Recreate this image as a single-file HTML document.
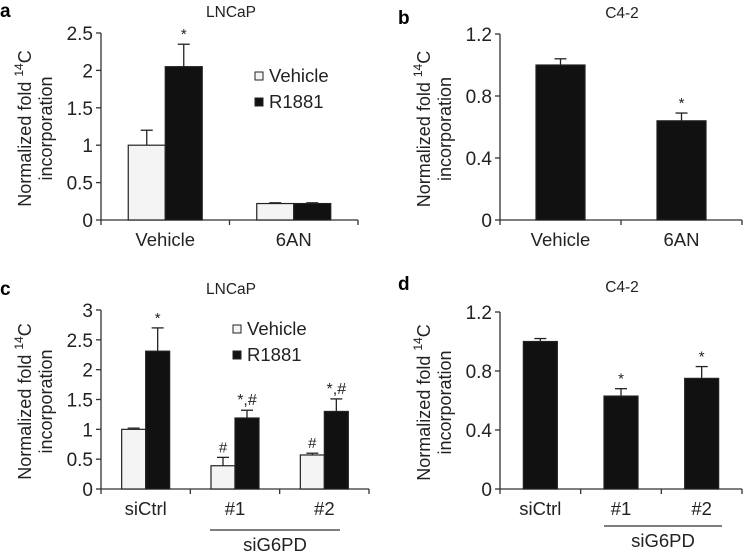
<!DOCTYPE html>
<html><head><meta charset="utf-8"><style>
html,body{margin:0;padding:0;background:#fff;}
svg{display:block;font-family:"Liberation Sans",Arial,sans-serif;}
</style></head><body>
<svg id="fig" width="743" height="555" viewBox="0 0 743 555"></svg>
<script>
// Panel a data
const aCategories = ["Vehicle", "6AN"];
const aVehicle = [1.0, 0.22];
const aVehicleErr = [0.2, 0.01];
const aR1881 = [2.05, 0.22];
const aR1881Err = [0.3, 0.01];
const aTicks = [0, 0.5, 1, 1.5, 2, 2.5];
const aTickLabels = ["0", "0.5", "1", "1.5", "2", "2.5"];
// Panel b data
const bCategories = ["Vehicle", "6AN"];
const bValues = [1.0, 0.64];
const bErr = [0.04, 0.05];
const bTicks = [0, 0.4, 0.8, 1.2];
const bTickLabels = ["0", "0.4", "0.8", "1.2"];
// Panel c data
const cCategories = ["siCtrl", "#1", "#2"];
const cVehicle = [1.0, 0.39, 0.57];
const cVehicleErr = [0.02, 0.14, 0.03];
const cR1881 = [2.31, 1.19, 1.3];
const cR1881Err = [0.39, 0.13, 0.21];
const cTicks = [0, 0.5, 1, 1.5, 2, 2.5, 3];
const cTickLabels = ["0", "0.5", "1", "1.5", "2", "2.5", "3"];
// Panel d data
const dCategories = ["siCtrl", "#1", "#2"];
const dValues = [1.0, 0.63, 0.75];
const dErr = [0.02, 0.05, 0.08];
const dTicks = [0, 0.4, 0.8, 1.2];
const dTickLabels = ["0", "0.4", "0.8", "1.2"];

const NS = "http://www.w3.org/2000/svg";
const svg = document.getElementById("fig");
function mk(tag, attrs, parent, text) {
  const e = document.createElementNS(NS, tag);
  for (const k in attrs) e.setAttribute(k, attrs[k]);
  if (text !== undefined) e.textContent = text;
  (parent || svg).appendChild(e);
  return e;
}

function panel(cfg) {
  const g = mk("g", {});
  
  
  const y = v => cfg.y0 - (v / cfg.ymax) * (cfg.y0 - cfg.ytop);
  const L = mk("text", {x: cfg.letterX, y: cfg.letterY, "font-size": 19, "font-weight": "bold"}, g, cfg.letter);
  
  
  const T = mk("text", {x: cfg.titleX, y: cfg.titleY, "font-size": 15.5, "text-anchor": "middle", fill: "#222"}, g, cfg.title);
  
  
  const yt = mk("text", {transform: `translate(${cfg.ax - 60},${(cfg.y0 + cfg.ytop) / 2 + 2}) rotate(-90)`, "font-size": 18, "text-anchor": "middle", fill: "#222"}, g);
  
  
  mk("tspan", {x: 0, dy: -10}, yt, "Normalized fold ");
  mk("tspan", {dy: -8, "font-size": 12}, yt, "14");
  mk("tspan", {dy: 8}, yt, "C");
  mk("tspan", {x: 0, dy: 21}, yt, "incorporation");
  const ya = mk("line", {x1: cfg.ax, x2: cfg.ax, y1: cfg.ytop, y2: cfg.y0, stroke: "#333", "stroke-width": 1.3}, g);
  
  
  cfg.ticks.forEach((t, i) => {
    mk("line", {x1: cfg.ax - 5, x2: cfg.ax, y1: y(t), y2: y(t), stroke: "#333", "stroke-width": 1.3}, g);
    const tl = mk("text", {x: cfg.ax - 8, y: y(t) + 7, "font-size": 19, "text-anchor": "end", fill: "#222"}, g, cfg.tickLabels[i]);
    
    
  });
  const xa = mk("line", {x1: cfg.ax, x2: cfg.axEnd, y1: cfg.y0, y2: cfg.y0, stroke: "#333", "stroke-width": 1.3}, g);
  
  
  const n = cfg.categories.length;
  const gw = (cfg.axEnd - cfg.ax) / n;
  for (let i = 0; i <= n; i++) {
    mk("line", {x1: cfg.ax + gw * i, x2: cfg.ax + gw * i, y1: cfg.y0, y2: cfg.y0 + 5, stroke: "#333", "stroke-width": 1.3}, g);
  }
  cfg.categories.forEach((c, i) => {
    const cx = cfg.ax + gw * (i + 0.5);
    const xl = mk("text", {x: cx, y: cfg.y0 + 26, "font-size": 18.5, "text-anchor": "middle", fill: "#222"}, g, c);
    
    
    cfg.series.forEach((s, si) => {
      const bw = cfg.barW;
      const total = bw * cfg.series.length;
      const x0 = cx - total / 2 + bw * si;
      const v = s.values[i], e = s.err[i];
      const bar = mk("rect", {x: x0, y: y(v), width: bw, height: cfg.y0 - y(v), fill: s.fill, stroke: "#222", "stroke-width": 1.2}, g);
      
      
      const bx = x0 + bw / 2;
      mk("line", {x1: bx, x2: bx, y1: y(v), y2: y(v + e), stroke: "#222", "stroke-width": 1.3}, g);
      mk("line", {x1: bx - 6, x2: bx + 6, y1: y(v + e), y2: y(v + e), stroke: "#222", "stroke-width": 1.3}, g);
      const m = s.marks && s.marks[i];
      if (m) {
        const mt = mk("text", {x: bx, y: y(v + e) - 5, "font-size": m.length > 1 ? 16 : 15, "text-anchor": "middle", fill: "#222"}, g, m);
        
        
      }
    });
  });
  if (cfg.legend) {
    const lg = mk("g", {}, g);
    
    
    cfg.series.forEach((s, si) => {
      const ly = cfg.legend.y + si * 26;
      mk("rect", {x: cfg.legend.x, y: ly - 10, width: 8, height: 8, fill: s.fill, stroke: "#222", "stroke-width": 1}, lg);
      const lt = mk("text", {x: cfg.legend.x + 14, y: ly, "font-size": 18.5, fill: "#222"}, lg, s.label);
      
      
    });
  }
  if (cfg.group) {
    mk("line", {x1: cfg.group.x1, x2: cfg.group.x2, y1: cfg.group.y, y2: cfg.group.y, stroke: "#333", "stroke-width": 1.2}, g);
    const gt = mk("text", {x: (cfg.group.x1 + cfg.group.x2) / 2, y: cfg.group.y + 21, "font-size": 18.5, "text-anchor": "middle", fill: "#222"}, g, "siG6PD");
    
    
  }
}

panel({name: "panel-a", letter: "a", letterX: 0, letterY: 17, title: "LNCaP", titleX: 231, titleY: 17,
  ax: 101, axEnd: 358, y0: 220, ytop: 33, ymax: 2.5, ticks: aTicks, tickLabels: aTickLabels,
  categories: aCategories, barW: 37, legend: {x: 255, y: 82},
  series: [
    {key: "vehicle", label: "Vehicle", fill: "#f4f4f4", values: aVehicle, err: aVehicleErr},
    {key: "r1881", label: "R1881", fill: "#111", values: aR1881, err: aR1881Err, marks: ["*", ""]}
  ]});
panel({name: "panel-b", letter: "b", letterX: 398, letterY: 24, title: "C4-2", titleX: 622, titleY: 18,
  ax: 500, axEnd: 742, y0: 220, ytop: 34, ymax: 1.2, ticks: bTicks, tickLabels: bTickLabels,
  categories: bCategories, barW: 49,
  series: [{key: "value", fill: "#111", values: bValues, err: bErr, marks: ["", "*"]}]});
panel({name: "panel-c", letter: "c", letterX: 0, letterY: 295, title: "LNCaP", titleX: 231, titleY: 294,
  ax: 101, axEnd: 369, y0: 489, ytop: 310, ymax: 3, ticks: cTicks, tickLabels: cTickLabels,
  categories: cCategories, barW: 24, legend: {x: 233, y: 335},
  series: [
    {key: "vehicle", label: "Vehicle", fill: "#f4f4f4", values: cVehicle, err: cVehicleErr, marks: ["", "#", "#"]},
    {key: "r1881", label: "R1881", fill: "#111", values: cR1881, err: cR1881Err, marks: ["*", "*,#", "*,#"]}
  ],
  group: {x1: 210, x2: 340, y: 530}});
panel({name: "panel-d", letter: "d", letterX: 398, letterY: 290, title: "C4-2", titleX: 622, titleY: 292,
  ax: 500, axEnd: 742, y0: 489, ytop: 312, ymax: 1.2, ticks: dTicks, tickLabels: dTickLabels,
  categories: dCategories, barW: 34,
  series: [{key: "value", fill: "#111", values: dValues, err: dErr, marks: ["", "*", "*"]}],
  group: {x1: 604, x2: 722, y: 526}});
</script>
</body></html>
